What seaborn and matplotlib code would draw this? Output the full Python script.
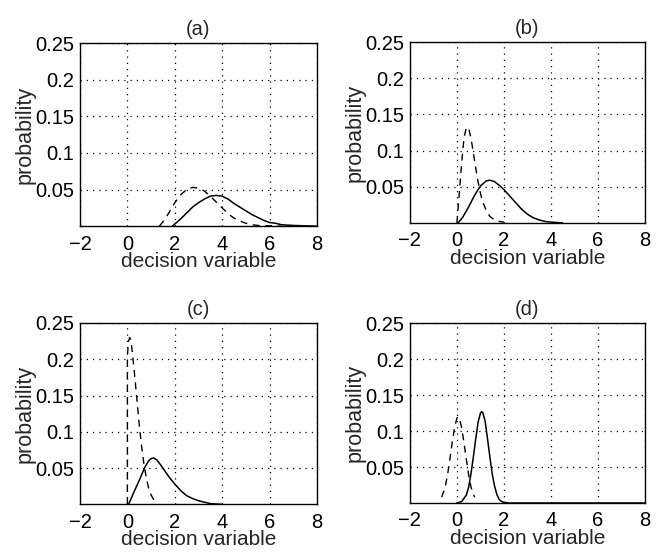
import matplotlib
matplotlib.use("Agg")
import matplotlib.pyplot as plt
import seaborn as sns
import pandas as pd

sns.set_style("white")
plt.rcParams['font.family'] = ['Liberation Sans', 'DejaVu Sans']

# ---- data ----
titles = ["(a)", "(b)", "(c)", "(d)"]

a_solid_x = [1.9, 2.25, 2.5, 2.75, 3.0, 3.25, 3.5, 3.75, 4.0, 4.25, 4.5, 4.75, 5.0, 5.25, 5.5, 5.75, 6.0, 6.25, 6.5, 7.0, 7.5, 8.0]
a_solid_y = [0.0, 0.010, 0.018, 0.026, 0.032, 0.037, 0.041, 0.042, 0.041, 0.037, 0.031, 0.026, 0.021, 0.016, 0.012, 0.008, 0.005, 0.004, 0.002, 0.001, 0.0005, 0.0]
a_dash_x = [1.35, 1.5, 1.75, 2.0, 2.25, 2.5, 2.75, 3.0, 3.25, 3.5, 3.75, 4.0, 4.25, 4.5, 4.75, 5.0, 5.25, 5.5, 6.0, 6.5]
a_dash_y = [0.0, 0.006, 0.018, 0.032, 0.043, 0.050, 0.053, 0.052, 0.048, 0.041, 0.033, 0.025, 0.017, 0.011, 0.007, 0.004, 0.002, 0.001, 0.0005, 0.0]

b_solid_x = [0.05, 0.25, 0.5, 0.75, 1.0, 1.25, 1.4, 1.6, 1.8, 2.0, 2.25, 2.5, 2.75, 3.0, 3.25, 3.5, 3.75, 4.0, 4.5]
b_solid_y = [0.0, 0.008, 0.022, 0.038, 0.051, 0.058, 0.059, 0.057, 0.052, 0.046, 0.037, 0.028, 0.019, 0.012, 0.007, 0.004, 0.002, 0.001, 0.0]
b_dash_x = [0.0, 0.1, 0.2, 0.3, 0.4, 0.5, 0.6, 0.7, 0.8, 0.9, 1.0, 1.1, 1.25, 1.4, 1.6, 1.8, 2.0]
b_dash_y = [0.0, 0.040, 0.082, 0.117, 0.132, 0.131, 0.117, 0.097, 0.076, 0.057, 0.041, 0.029, 0.017, 0.009, 0.004, 0.002, 0.001]

c_solid_x = [0.05, 0.25, 0.5, 0.75, 0.9, 1.0, 1.1, 1.25, 1.5, 1.75, 2.0, 2.25, 2.5, 2.75, 3.0, 3.25, 3.5, 4.0]
c_solid_y = [0.0, 0.015, 0.033, 0.052, 0.060, 0.063, 0.064, 0.061, 0.050, 0.038, 0.028, 0.019, 0.012, 0.008, 0.005, 0.003, 0.001, 0.0]
c_dash_x = [0.0, 0.0, 0.05, 0.1, 0.15, 0.2, 0.3, 0.4, 0.5, 0.6, 0.7, 0.8, 0.9, 1.0, 1.1, 1.2]
c_dash_y = [0.0, 0.205, 0.225, 0.230, 0.226, 0.212, 0.180, 0.145, 0.110, 0.080, 0.055, 0.036, 0.022, 0.013, 0.007, 0.004]

d_solid_x = [0.0, 0.2, 0.4, 0.5, 0.6, 0.7, 0.8, 0.9, 1.0, 1.05, 1.1, 1.2, 1.3, 1.4, 1.5, 1.6, 1.7, 1.8, 1.9, 2.0, 2.2, 8.0]
d_solid_y = [0.0, 0.002, 0.011, 0.022, 0.041, 0.064, 0.089, 0.112, 0.125, 0.127, 0.126, 0.114, 0.090, 0.065, 0.041, 0.024, 0.012, 0.005, 0.002, 0.001, 0.0, 0.0]
d_dash_x = [-0.65, -0.5, -0.4, -0.3, -0.2, -0.1, 0.0, 0.05, 0.1, 0.2, 0.3, 0.4, 0.5, 0.6, 0.75]
d_dash_y = [0.008, 0.022, 0.039, 0.061, 0.084, 0.105, 0.118, 0.120, 0.118, 0.105, 0.084, 0.061, 0.039, 0.022, 0.008]

xticks = [-2, 0, 2, 4, 6, 8]
xtick_labels = ["\u22122", "0", "2", "4", "6", "8"]
yticks = [0.05, 0.1, 0.15, 0.2, 0.25]
ytick_labels = ["0.05", "0.1", "0.15", "0.2", "0.25"]
xlabel = "decision variable"
ylabel = "probability"

panels = [
    (a_solid_x, a_solid_y, a_dash_x, a_dash_y),
    (b_solid_x, b_solid_y, b_dash_x, b_dash_y),
    (c_solid_x, c_solid_y, c_dash_x, c_dash_y),
    (d_solid_x, d_solid_y, d_dash_x, d_dash_y),
]

positions = [
    [0.1216, 0.591, 0.360, 0.331],
    [0.623, 0.597, 0.357, 0.327],
    [0.1216, 0.088, 0.360, 0.328],
    [0.623, 0.0904, 0.357, 0.325],
]

fig = plt.figure(figsize=(6.58, 5.53), dpi=100)

for title, (sx, sy, dx, dy), pos in zip(titles, panels, positions):
    ax = fig.add_axes(pos)
    sdf = pd.DataFrame({"x": sx, "y": sy})
    ddf = pd.DataFrame({"x": dx, "y": dy})
    sns.lineplot(data=sdf, x="x", y="y", ax=ax, color="black", lw=1.1, sort=False, estimator=None)
    sns.lineplot(data=ddf, x="x", y="y", ax=ax, color="black", lw=1.0, linestyle=(0, (5, 4)), sort=False, estimator=None)
    ax.set_xlim(-2, 8)
    ax.set_ylim(0, 0.25)
    ax.set_xticks(xticks)
    ax.set_xticklabels(xtick_labels)
    ax.set_yticks(yticks)
    ax.set_yticklabels(ytick_labels)
    ax.tick_params(direction="in", length=4, width=0.8, labelsize=14.5, colors="black")
    ax.tick_params(axis="x", pad=6)
    ax.tick_params(axis="y", pad=4)
    ax.grid(True, linestyle=(0, (1, 4)), color="black", linewidth=0.9)
    for sp in ax.spines.values():
        sp.set_color("black")
        sp.set_linewidth(1.0)
    ax.set_xlabel(xlabel, fontsize=15, labelpad=-1)
    ax.set_ylabel(ylabel, fontsize=15.5, labelpad=0)
    ax.set_title(title, fontsize=14.5, pad=6)

fig.savefig("out.png", dpi=100)
